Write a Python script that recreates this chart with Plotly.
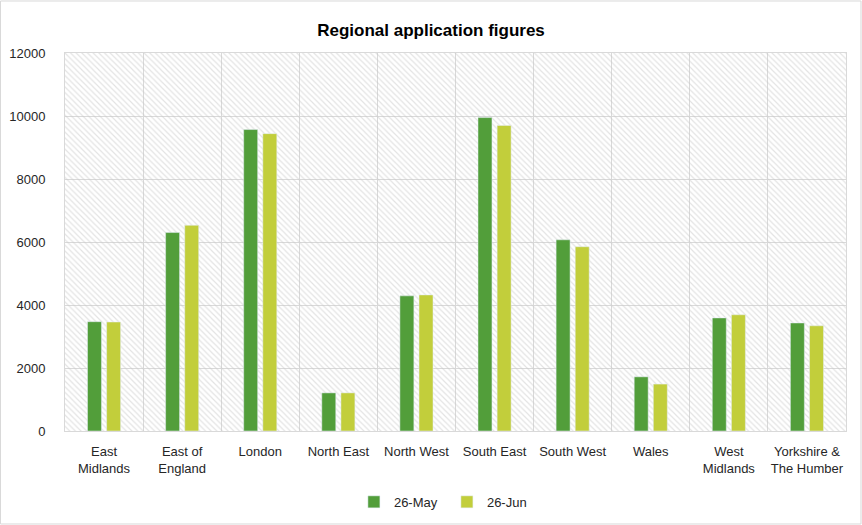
import plotly.graph_objects as go

regions = ["East<br>Midlands", "East of<br>England", "London", "North East", "North West",
           "South East", "South West", "Wales", "West<br>Midlands", "Yorkshire &<br>The Humber"]
may_vals = [3470, 6300, 9570, 1210, 4290, 9950, 6070, 1720, 3590, 3430]
jun_vals = [3460, 6530, 9440, 1210, 4320, 9700, 5850, 1490, 3690, 3340]
series_names = ["26-May", "26-Jun"]
y_max = 12000

fig = go.Figure()

# hatched plot background, drawn on the base (numeric) axis
fig.add_trace(go.Bar(
    x=[(len(regions) - 1) / 2], y=[y_max], width=[len(regions)],
    marker=dict(color="rgba(0,0,0,0)", line=dict(width=0),
                pattern=dict(shape="\\", fgcolor="#c8c8c8", size=4, solidity=0.3)),
    showlegend=False, hoverinfo="skip", xaxis="x", yaxis="y"))

fig.add_trace(go.Bar(x=regions, y=may_vals, name=series_names[0],
                     marker_color="#529E3A", xaxis="x2", yaxis="y"))
fig.add_trace(go.Bar(x=regions, y=jun_vals, name=series_names[1],
                     marker_color="#C2CE3B", xaxis="x2", yaxis="y"))

fig.update_layout(
    width=862, height=525,
    margin=dict(l=65, r=16, t=53, b=94),
    paper_bgcolor="white", plot_bgcolor="white",
    font=dict(family="Liberation Sans, Arial, sans-serif", size=13, color="#262626"),
    title=dict(text="<b>Regional application figures</b>", x=0.5, xanchor="center",
               y=0.943, yanchor="middle", font=dict(size=17, color="black")),
    barmode="group", bargap=0.51, bargroupgap=0.27,
    xaxis=dict(range=[-0.5, len(regions) - 0.5], tick0=0.5, dtick=1,
               showgrid=True, gridcolor="#d9d9d9", gridwidth=1,
               showticklabels=False, zeroline=False, automargin=False,
               showline=True, linecolor="#d9d9d9", mirror=True),
    xaxis2=dict(overlaying="x", anchor="y", side="bottom", type="category",
                showgrid=False, showline=False, ticks="", ticklabelstandoff=11,
                automargin=False, tickfont=dict(size=13)),
    yaxis=dict(range=[0, y_max], dtick=2000, tickformat="d", showgrid=True,
               gridcolor="#d9d9d9", zeroline=False, showline=True, automargin=False,
               linecolor="#d9d9d9", mirror=True, ticks="", ticklabelstandoff=16,
               tickfont=dict(size=13)),
    legend=dict(orientation="h", x=0.489, xanchor="center", yref="container",
                y=0.044, yanchor="middle", font=dict(size=13), entrywidth=48),
    shapes=[dict(type="rect", xref="paper", yref="paper",
                 x0=-0.0826, x1=1.0192, y0=-0.246, y1=1.1376,
                 line=dict(color="#d9d9d9", width=1))],
)

fig.write_html("out.html", config={"displayModeBar": False},
               post_script="document.body.style.margin='0';")
